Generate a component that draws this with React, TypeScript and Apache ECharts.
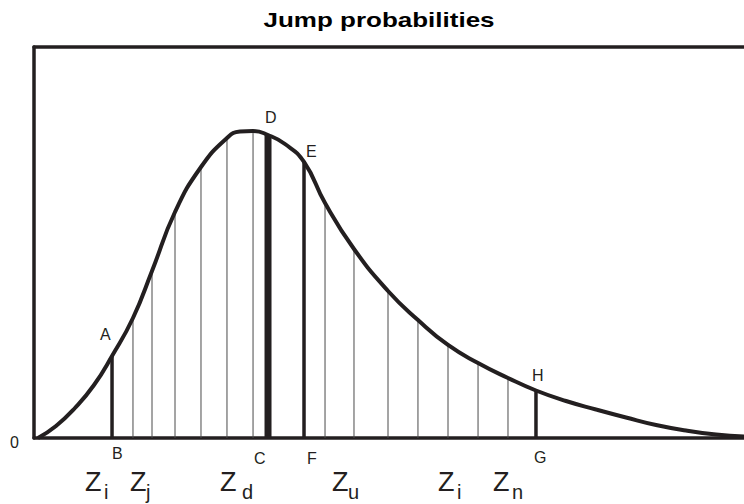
import React, { useEffect, useRef } from "react";
import * as echarts from "echarts";

// Density curve (x in z-units 0..100, y in relative probability 0..100)
const curveX = [0.56, 3.1, 5.77, 8.45, 10.99, 13.94, 16.62, 19.86, 23.52, 27.18, 29.01, 30.85, 32.96, 35.35, 38.03, 40.99, 45.07, 49.86, 54.08, 58.31, 62.54, 66.76, 70.7, 74.93, 79.15, 83.38, 87.61, 91.83, 96.06, 100];
const curveY = [0, 3.07, 7.67, 13.55, 20.97, 30.69, 42.71, 57.8, 69.31, 76.73, 78.39, 78.52, 77.49, 75.19, 70.59, 60.1, 48.34, 37.6, 30.18, 23.79, 19.18, 15.35, 12.15, 9.46, 7.29, 5.24, 3.32, 1.92, 0.9, 0.38];

// Thin grid drops under the curve
const thinDropX = [13.94, 16.62, 19.86, 23.52, 27.18, 30.85, 40.99, 45.07, 49.86, 54.08, 58.31, 62.54, 66.76];
const thinDropY = [30.69, 42.71, 57.8, 69.31, 76.73, 78.52, 60.1, 48.34, 37.6, 30.18, 23.79, 19.18, 15.35];

// Marked drops: A-B, E-F, H-G
const markedDropX = [10.99, 38.03, 70.7];
const markedDropY = [20.97, 70.59, 12.15];

// Mode drop: D-C
const modeDropX = [32.96];
const modeDropY = [77.49];

const INK = "#231f20";
const FONT = "Liberation Sans, Arial, sans-serif";

const dropSeries = (xs: number[], ys: number[], width: number, color: string, z: number) => ({
  type: "custom",
  z,
  clip: true,
  data: xs.map((x, i) => [x, ys[i]]),
  renderItem: (_p: any, api: any) => {
    const a = api.coord([api.value(0), 0]);
    const b = api.coord([api.value(0), api.value(1)]);
    return {
      type: "line",
      shape: { x1: a[0], y1: a[1], x2: b[0], y2: b[1] },
      style: { stroke: color, lineWidth: width },
    };
  },
});

const letter = (t: string, x: number, y: number) => ({
  type: "text",
  x,
  y,
  style: { text: t, fill: INK, font: `16px ${FONT}`, textAlign: "left", textVerticalAlign: "middle" },
});

const zLabel = (sub: string, x: number, subX: number) => [
  {
    type: "text",
    x,
    y: 482,
    style: { text: "Z", fill: INK, font: `27px ${FONT}`, textAlign: "left", textVerticalAlign: "middle" },
  },
  {
    type: "text",
    x: subX,
    y: 492,
    style: { text: sub, fill: INK, font: `20px ${FONT}`, textAlign: "left", textVerticalAlign: "middle" },
  },
];

export default function App() {
  const ref = useRef<HTMLDivElement>(null);
  useEffect(() => {
    if (!ref.current) return;
    const chart = echarts.init(ref.current, undefined, { renderer: "svg" });
    chart.setOption({
      animation: false,
      backgroundColor: "#ffffff",
      grid: { left: 34, right: 0, top: 47, bottom: 66, containLabel: false },
      xAxis: [
        {
          type: "value",
          min: 0,
          max: 100,
          position: "bottom",
          axisLine: { show: true, lineStyle: { color: INK, width: 3.5 } },
          axisTick: { show: false },
          axisLabel: { show: false },
          splitLine: { show: false },
        },
        {
          type: "value",
          min: 0,
          max: 100,
          position: "top",
          axisLine: { show: true, lineStyle: { color: INK, width: 3.5 } },
          axisTick: { show: false },
          axisLabel: { show: false },
          splitLine: { show: false },
        },
      ],
      yAxis: {
        type: "value",
        min: 0,
        max: 100,
        interval: 100,
        axisLine: { show: true, lineStyle: { color: INK, width: 3.5 } },
        axisTick: { show: false },
        axisLabel: { show: false },
        splitLine: { show: false },
      },
      series: [
        dropSeries(thinDropX, thinDropY, 1, "#4a4a4a", 1),
        dropSeries(markedDropX, markedDropY, 3.5, INK, 2),
        dropSeries(modeDropX, modeDropY, 7, INK, 2),
        {
          type: "line",
          z: 3,
          smooth: 0.5,
          symbol: "none",
          data: curveX.map((x, i) => [x, curveY[i]]),
          lineStyle: { color: INK, width: 4 },
        },
      ],
      graphic: [
        {
          type: "text",
          x: 379,
          y: 20,
          scaleX: 1.3,
          style: {
            text: "Jump probabilities",
            fill: "#000",
            font: `bold 20px ${FONT}`,
            textAlign: "center",
            textVerticalAlign: "middle",
          },
        },
        letter("0", 10, 442.5),
        letter("A", 100, 334),
        letter("B", 112, 453.5),
        letter("C", 254, 458.5),
        letter("D", 265, 117.5),
        letter("E", 306, 151),
        letter("F", 307, 458.5),
        letter("G", 534, 457.5),
        letter("H", 532, 375.5),
        ...zLabel("i", 85, 104),
        ...zLabel("j", 130, 146),
        ...zLabel("d", 220, 242),
        ...zLabel("u", 332, 348),
        ...zLabel("i", 438, 457),
        ...zLabel("n", 493, 512),
      ],
    });
    return () => chart.dispose();
  }, []);
  return <div ref={ref} style={{ position: "fixed", left: 0, top: 0, width: 744, height: 504 }} />;
}
